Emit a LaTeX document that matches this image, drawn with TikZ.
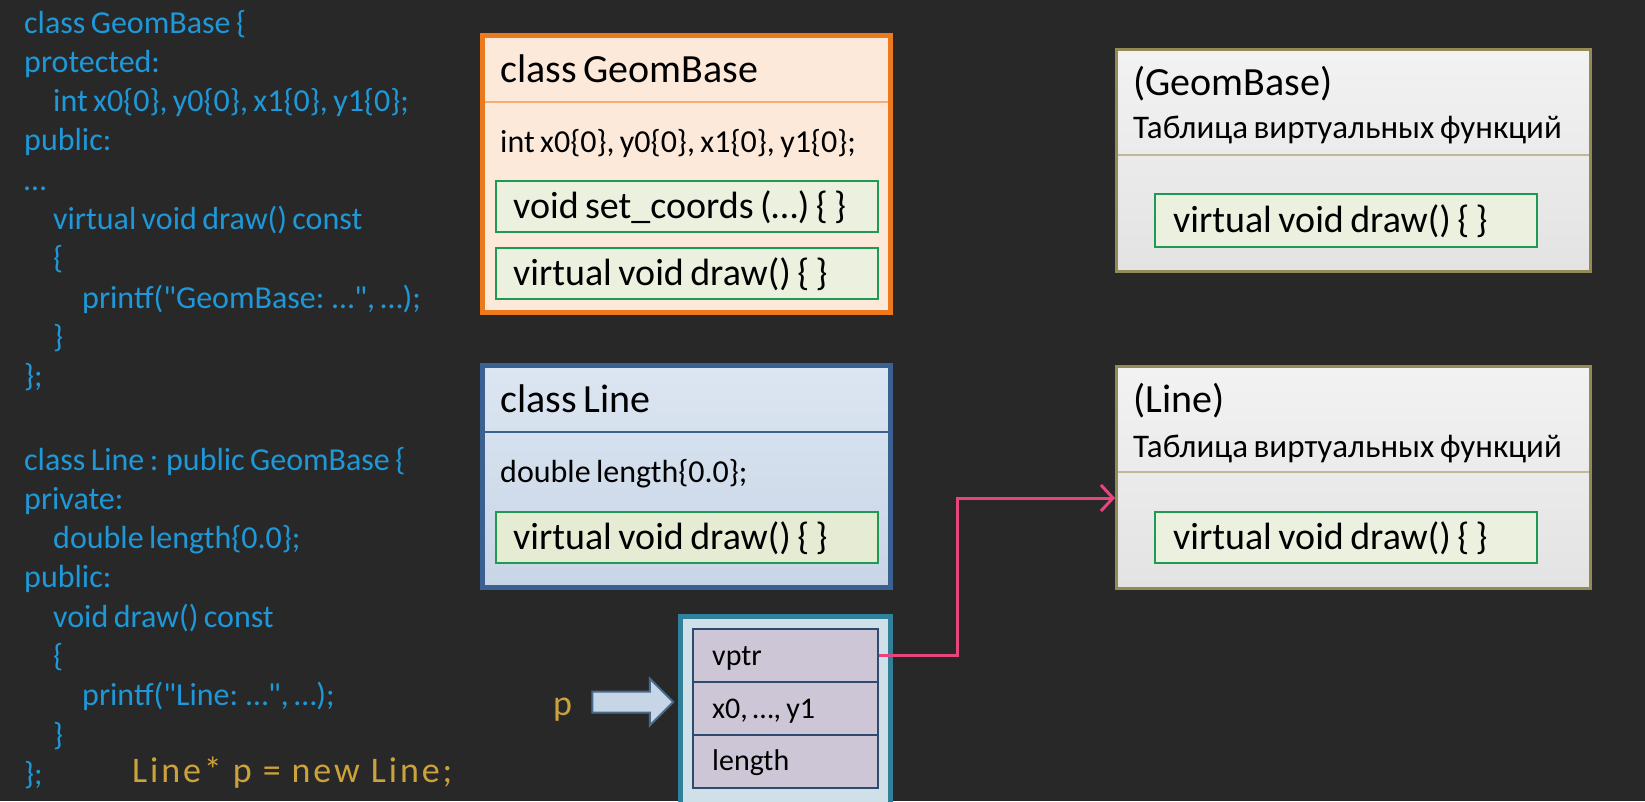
\documentclass[tikz,border=0pt]{standalone}
\usepackage{fontspec}
\setmainfont{Carlito}[Ligatures=TeXOff, WordSpace=0.75]
\newfontfamily\goldfont{Carlito}[LetterSpace=8]
\usetikzlibrary{shapes.arrows,arrows.meta}
\definecolor{bgdark}{HTML}{282828}
\definecolor{codeblue}{HTML}{1E98D8}
\definecolor{codegold}{HTML}{CCA23A}
\definecolor{gborange}{HTML}{EC7A1C}
\definecolor{gbfill}{HTML}{FCE9DA}
\definecolor{lnblue}{HTML}{3A6192}
\definecolor{lntop}{HTML}{DCE6F2}
\definecolor{lnbot}{HTML}{C8D5E6}
\definecolor{methgreen}{HTML}{1E9A52}
\definecolor{methfill}{HTML}{EBF1DE}
\definecolor{methfilltwo}{HTML}{E6EBD3}
\definecolor{vtkhaki}{HTML}{948A54}
\definecolor{objteal}{HTML}{31809A}
\definecolor{objfill}{HTML}{CFE0E8}
\definecolor{cellfill}{HTML}{CDC6D6}
\definecolor{cellline}{HTML}{2E4A6E}
\definecolor{ptrpink}{HTML}{E8457F}
\definecolor{arrfill}{HTML}{C6D6E6}
\definecolor{arrline}{HTML}{4A6A8C}
\begin{document}
\begin{tikzpicture}[x=1pt, y=-1pt, font=\fontsize{32}{38}\selectfont]
\tikzstyle{code}=[anchor=base west, inner sep=0pt, text=codeblue]
\tikzstyle{txt}=[anchor=base west, inner sep=0pt, text=black]
\tikzstyle{title}=[txt, font=\fontsize{40}{48}\selectfont]
\tikzstyle{sub}=[txt, font=\fontsize{33}{40}\selectfont]
\tikzstyle{mtext}=[txt, font=\fontsize{38}{45}\selectfont]
\tikzstyle{ctext}=[txt, font=\fontsize{30}{36}\selectfont]
\tikzstyle{gbbox}=[draw=gborange, line width=5pt, fill=gbfill, minimum width=408pt, minimum height=277pt, inner sep=0pt]
\tikzstyle{lnbox}=[draw=lnblue, line width=5pt, top color=lntop, bottom color=lnbot, minimum width=408pt, minimum height=222pt, inner sep=0pt]
\tikzstyle{vtbox}=[draw=vtkhaki, line width=3pt, top color=black!5, bottom color=black!11, minimum width=474pt, minimum height=222pt, inner sep=0pt]
\tikzstyle{objbox}=[draw=objteal, line width=5pt, fill=objfill, minimum width=210pt, minimum height=195pt, inner sep=0pt]
\tikzstyle{meth}=[draw=methgreen, line width=2pt, fill=methfill, minimum width=382pt, minimum height=51pt, inner sep=0pt]
\tikzstyle{cell}=[draw=cellline, line width=2pt, fill=cellfill, minimum width=185pt, minimum height=53pt, inner sep=0pt]
\tikzstyle{ptr}=[draw=ptrpink, line width=3pt, -{Straight Barb[length=12pt,width=26pt]}]
\useasboundingbox (0,0) rectangle (1645,801);
\fill[bgdark] (0,0) rectangle (1645,801);
\clip (0,0) rectangle (1645,801);
% source code
\node[code] (g1) at (24,33) {class GeomBase \{};
\node[code] (g2) at (24,72.3) {protected:};
\node[code] (g3) at (53,111.6) {int x0\{0\}, y0\{0\}, x1\{0\}, y1\{0\};};
\node[code] (g4) at (24,150.9) {public:};
\node[code] (g5) at (24,190.2) {…};
\node[code] (g6) at (53,229.5) {virtual void draw() const};
\node[code] (g7) at (53,268.8) {\{};
\node[code] (g8) at (82,308.1) {printf("GeomBase: …", …);};
\node[code] (g9) at (53,347.4) {\}};
\node[code] (g10) at (24,386.7) {\};};
\node[code] (l1) at (24,470) {class Line : public GeomBase \{};
\node[code] (l2) at (24,509.3) {private:};
\node[code] (l3) at (53,548.6) {double length\{0.0\};};
\node[code] (l4) at (24,587.9) {public:};
\node[code] (l5) at (53,627.2) {void draw() const};
\node[code] (l6) at (53,666.5) {\{};
\node[code] (l7) at (82,705.8) {printf("Line: …", …);};
\node[code] (l8) at (53,745.1) {\}};
\node[code] (l9) at (24,784.4) {\};};
\node[code, text=codegold, font=\goldfont\fontsize{36}{43}\selectfont] (newLine) at (132,782) {Line* p = new Line;};
% class GeomBase
\node[gbbox] (gbClass) at (686.5,174) {};
\draw[gborange!60, line width=1.5pt] (485,102) -- (888,102);
\node[title] (gbTitle) at (500,82) {class GeomBase};
\node[txt] (gbFields) at (500,152) {int x0\{0\}, y0\{0\}, x1\{0\}, y1\{0\};};
\node[meth] (gbSet) at (686.5,206.5) {};
\node[mtext] (gbSetT) at (513,218) {void set\_coords (…) \{ \}};
\node[meth] (gbDraw) at (686.5,273) {};
\node[mtext] (gbDrawT) at (513,285) {virtual void draw() \{ \}};
% class Line
\node[lnbox] (lnClass) at (686.5,476.5) {};
\draw[lnblue, line width=1.5pt] (485,432) -- (888,432);
\node[title] (lnTitle) at (500,412) {class Line};
\node[txt] (lnFields) at (500,482) {double length\{0.0\};};
\node[meth, fill=methfilltwo] (lnDraw) at (686.5,537) {};
\node[mtext] (lnDrawT) at (513,549) {virtual void draw() \{ \}};
% object in memory
\node[objbox] (obj) at (785.5,714) {};
\node[cell] (vptr) at (785.5,655.5) {};
\node[cell] (coords) at (785.5,708.5) {};
\node[cell] (len) at (785.5,761.5) {};
\node[ctext] (vptrT) at (712,665) {vptr};
\node[ctext] (coordsT) at (712,718) {x0, …, y1};
\node[ctext] (lenT) at (712,770) {length};
\node[code, text=codegold, font=\fontsize{36}{43}\selectfont] (pLabel) at (553,715) {p};
\node[single arrow, draw=arrline, line width=2pt, fill=arrfill, minimum height=81pt, minimum width=45pt, single arrow head extend=13pt, inner sep=9.5pt] (pArrow) at (627.5,702) {};
% vtables
\node[vtbox] (gbVt) at (1353.5,160.5) {};
\draw[vtkhaki!60, line width=1.5pt] (1118,155) -- (1589,155);
\node[title] (gbVtTitle) at (1133,95) {(GeomBase)};
\node[sub] (gbVtSub) at (1133,138) {Таблица виртуальных функций};
\node[meth, minimum height=53pt] (gbVtDraw) at (1345.5,220.5) {};
\node[mtext] (gbVtDrawT) at (1173,232) {virtual void draw() \{ \}};
\node[vtbox] (lnVt) at (1353.5,477) {};
\draw[vtkhaki!60, line width=1.5pt] (1118,472) -- (1589,472);
\node[title] (lnVtTitle) at (1133,412) {(Line)};
\node[sub] (lnVtSub) at (1133,457) {Таблица виртуальных функций};
\node[meth] (lnVtDraw) at (1345.5,537) {};
\node[mtext] (lnVtDrawT) at (1173,549) {virtual void draw() \{ \}};
% vptr -> vtable
\coordinate (bend) at (957,498);
\draw[ptr] (vptr.east) -| (bend) -- (lnVt.west |- bend);
\end{tikzpicture}
\end{document}
